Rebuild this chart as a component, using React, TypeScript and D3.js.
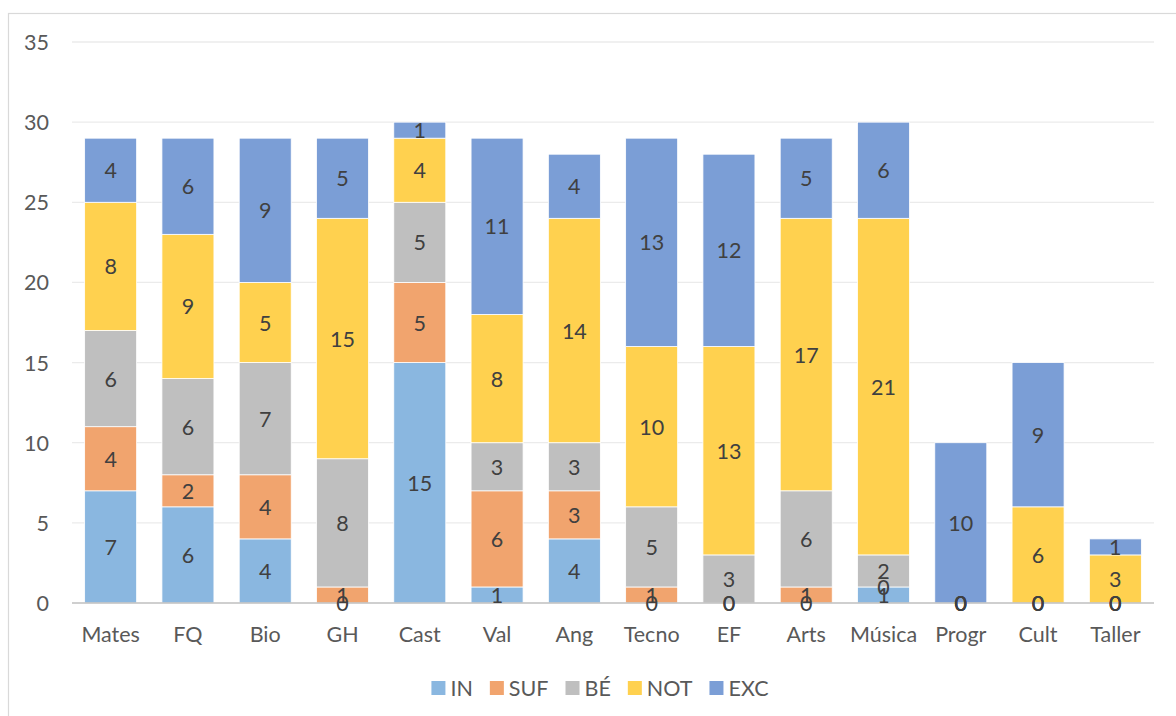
import React, { useEffect, useRef } from "react";
import * as d3 from "d3";

const categories = ["Mates", "FQ", "Bio", "GH", "Cast", "Val", "Ang", "Tecno", "EF", "Arts", "Música", "Progr", "Cult", "Taller"];
const seriesNames = ["IN", "SUF", "BÉ", "NOT", "EXC"];
const IN = [7, 6, 4, 0, 15, 1, 4, 0, 0, 0, 1, 0, 0, 0];
const SUF = [4, 2, 4, 1, 5, 6, 3, 1, 0, 1, 0, 0, 0, 0];
const BE = [6, 6, 7, 8, 5, 3, 3, 5, 3, 6, 2, 0, 0, 0];
const NOT = [8, 9, 5, 15, 4, 8, 14, 10, 13, 17, 21, 0, 6, 3];
const EXC = [4, 6, 9, 5, 1, 11, 4, 13, 12, 5, 6, 10, 9, 1];
const yTicks = [0, 5, 10, 15, 20, 25, 30, 35];
const colors = ["#8AB7E0", "#F1A46E", "#BFBFBF", "#FFD14F", "#7B9ED6"];
// which zero values show a label in the reference
const showZero = [
  [false, false, false, true, false, false, false, true, true, true, false, true, true, true],
  [false, false, false, false, false, false, false, false, true, false, true, true, true, true],
  [false, false, false, false, false, false, false, false, false, false, false, true, true, true],
  [false, false, false, false, false, false, false, false, false, false, false, true, false, false],
  [false, false, false, false, false, false, false, false, false, false, false, false, false, false],
];

const FONT = "Lato, 'Open Sans', sans-serif";
const FS = 21.5;

export default function App() {
  const ref = useRef<SVGSVGElement>(null);

  useEffect(() => {
    const svg = d3.select(ref.current);
    svg.selectAll("*").remove();

    const left = 72, right = 1154, top = 42, bottom = 603;
    const x = d3.scaleBand<string>().domain(categories).range([left, right]).paddingInner(0.327).paddingOuter(0.1635);
    const y = d3.scaleLinear().domain([0, 35]).range([bottom, top]);

    // outer border
    svg.append("rect").attr("x", 8.5).attr("y", 13.5).attr("width", 1300).attr("height", 900)
      .attr("fill", "white").attr("stroke", "#d9d9d9").attr("stroke-width", 1.2);

    // gridlines
    svg.append("g").selectAll("line").data(yTicks.filter((t) => t !== 0)).join("line")
      .attr("x1", left).attr("x2", right)
      .attr("y1", (d) => y(d)).attr("y2", (d) => y(d))
      .attr("stroke", "#ebebeb").attr("stroke-width", 1.3);

    // y tick labels
    svg.append("g").selectAll("text").data(yTicks).join("text")
      .attr("x", 49).attr("y", (d) => y(d)).attr("text-anchor", "end")
      .attr("dominant-baseline", "central")
      .attr("font-family", FONT).attr("font-size", FS).attr("fill", "#595959")
      .text((d) => String(d));

    const rows = categories.map((c, i) => ({
      cat: c,
      IN: IN[i], SUF: SUF[i], "BÉ": BE[i], NOT: NOT[i], EXC: EXC[i],
    }));
    const stacked = d3.stack<any>().keys(seriesNames)(rows);

    const gBars = svg.append("g");
    stacked.forEach((layer, si) => {
      gBars.append("g").selectAll("rect").data(layer).join("rect")
        .attr("x", (d: any) => x(d.data.cat)!)
        .attr("width", x.bandwidth())
        .attr("y", (d: any) => y(d[1]))
        .attr("height", (d: any) => Math.max(0, y(d[0]) - y(d[1])))
        .attr("fill", colors[si])
        .attr("stroke", "white").attr("stroke-width", 0.8);
    });

    // axis line
    svg.append("line").attr("x1", left).attr("x2", right).attr("y1", bottom).attr("y2", bottom)
      .attr("stroke", "#bfbfbf").attr("stroke-width", 1.5);

    // data labels
    const gLab = svg.append("g");
    stacked.forEach((layer, si) => {
      layer.forEach((d: any, ci) => {
        const v = d[1] - d[0];
        if (v === 0 && !showZero[si][ci]) return;
        gLab.append("text")
          .attr("x", x(d.data.cat)! + x.bandwidth() / 2)
          .attr("y", y((d[0] + d[1]) / 2))
          .attr("text-anchor", "middle").attr("dominant-baseline", "central")
          .attr("font-family", FONT).attr("font-size", FS).attr("fill", "#404040")
          .text(String(v));
      });
    });

    // category labels
    svg.append("g").selectAll("text").data(categories).join("text")
      .attr("x", (d) => x(d)! + x.bandwidth() / 2).attr("y", 642)
      .attr("text-anchor", "middle")
      .attr("font-family", FONT).attr("font-size", FS).attr("fill", "#595959")
      .text((d) => d);

    // legend
    const gLeg = svg.append("g");
    const items = seriesNames.map((name, i) => {
      const g = gLeg.append("g");
      g.append("rect").attr("x", 0).attr("y", -7).attr("width", 14).attr("height", 14).attr("fill", colors[i]);
      const t = g.append("text").attr("x", 19).attr("y", 0).attr("dominant-baseline", "central")
        .attr("font-family", FONT).attr("font-size", FS).attr("fill", "#595959").text(name);
      const w = 19 + (t.node() as SVGTextElement).getComputedTextLength();
      return { g, w };
    });
    const gap = 17;
    const total = items.reduce((s, it) => s + it.w, 0) + gap * (items.length - 1);
    let cx = 600 - total / 2;
    items.forEach((it) => {
      it.g.attr("transform", `translate(${cx},688)`);
      cx += it.w + gap;
    });
  }, []);

  return (
    <svg ref={ref} width={1176} height={716} style={{ position: "absolute", left: 0, top: 0, background: "white" }} />
  );
}
